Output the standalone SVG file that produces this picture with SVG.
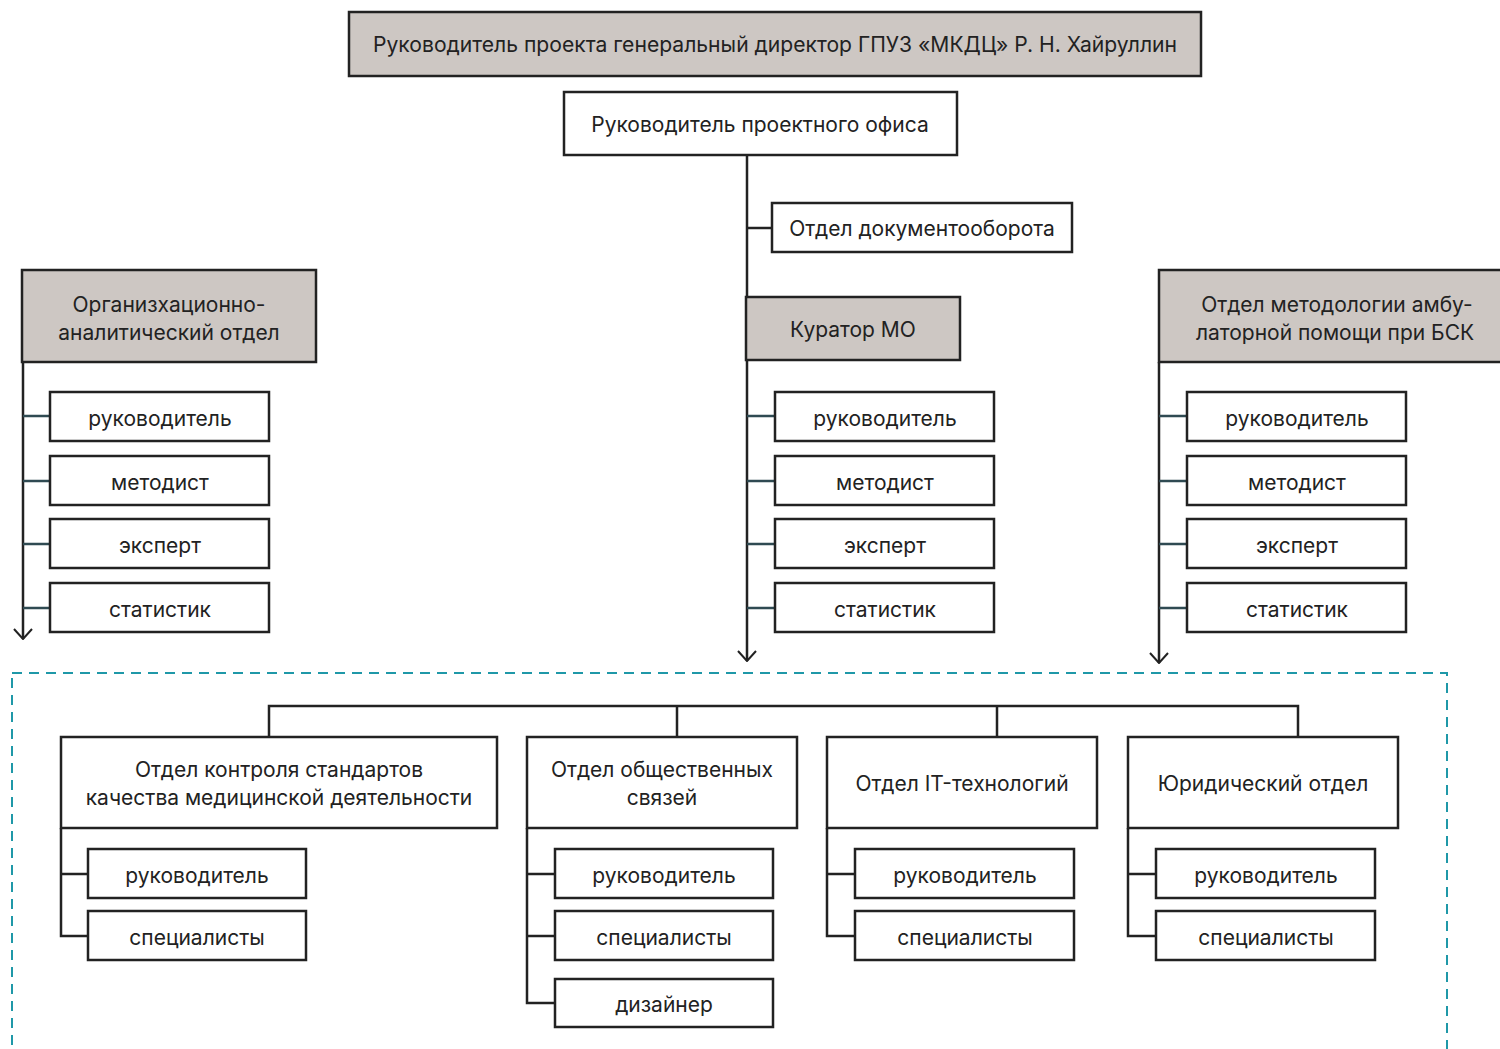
<svg xmlns="http://www.w3.org/2000/svg" width="1500" height="1049" viewBox="0 0 1500 1049">
<defs>
<style>
.box{fill:#fff;stroke:#222;stroke-width:2.5}
.gray{fill:#cdc7c3;stroke:#222;stroke-width:2.5}
text{font-family:Inter,"Noto Sans","Liberation Sans",sans-serif;font-size:21px;fill:#222;text-anchor:middle}
.ln{fill:none;stroke:#222;stroke-width:2.5}
.br{fill:none;stroke:#2f4a52;stroke-width:2.5}
</style>
<marker id="arr" viewBox="0 0 20 12" markerWidth="20" markerHeight="12" refX="10" refY="11" orient="0" markerUnits="userSpaceOnUse">
<path d="M1 1 L10 11 L19 1" fill="none" stroke="#222" stroke-width="2"/>
</marker>
</defs>
<rect width="1500" height="1049" fill="#fff"/>
<rect x="12" y="673" width="1435" height="400" fill="none" stroke="#1f98a8" stroke-width="2" stroke-dasharray="10 7"/>
<g id="connectors">
<path class="ln" d="M747 155 V661" marker-end="url(#arr)"/>
<path class="ln" d="M747 228 H772"/>
<path class="ln" d="M23 362 V639" marker-end="url(#arr)"/>
<path class="ln" d="M1159 362 V663" marker-end="url(#arr)"/>
<path class="br" d="M23 416 H50 M23 481 H50 M23 544 H50 M23 608 H50"/>
<path class="br" d="M747 416 H775 M747 481 H775 M747 544 H775 M747 608 H775"/>
<path class="br" d="M1159 416 H1187 M1159 481 H1187 M1159 544 H1187 M1159 608 H1187"/>
<path class="ln" d="M269 737 V706 H1298 V737 M677 706 V737 M997 706 V737"/>
<path class="ln" d="M61 828 V936 H88 M61 874 H88"/>
<path class="ln" d="M527 828 V1003 H555 M527 874 H555 M527 936 H555"/>
<path class="ln" d="M827 828 V936 H855 M827 874 H855"/>
<path class="ln" d="M1128 828 V936 H1156 M1128 874 H1156"/>
</g>
<g id="n-top"><rect class="gray" x="349" y="12" width="852" height="64"/><text x="775" y="52" textLength="804" lengthAdjust="spacingAndGlyphs">Руководитель проекта генеральный директор ГПУЗ «МКДЦ» Р. Н. Хайруллин</text></g>
<g id="n-office"><rect class="box" x="564" y="92" width="393" height="63"/><text x="760" y="132">Руководитель проектного офиса</text></g>
<g id="n-docs"><rect class="box" x="772" y="203" width="300" height="49"/><text x="922" y="236">Отдел документооборота</text></g>
<g id="n-curator"><rect class="gray" x="746" y="297" width="214" height="63"/><text x="853" y="337">Куратор МО</text></g>
<g id="n-oao"><rect class="gray" x="22" y="270" width="294" height="92"/><text x="169" y="312">Организхационно-</text><text x="169" y="340">аналитический отдел</text></g>
<g id="n-metod"><rect class="gray" x="1159" y="270" width="350" height="92"/><text x="1337" y="312">Отдел методологии амбу-</text><text x="1335" y="340">латорной помощи при БСК</text></g>
<g id="n-l1"><rect class="box" x="50" y="392" width="219" height="49"/><text x="160" y="426">руководитель</text></g>
<g id="n-l2"><rect class="box" x="50" y="456" width="219" height="49"/><text x="160" y="490">методист</text></g>
<g id="n-l3"><rect class="box" x="50" y="519" width="219" height="49"/><text x="160" y="553">эксперт</text></g>
<g id="n-l4"><rect class="box" x="50" y="583" width="219" height="49"/><text x="160" y="617">статистик</text></g>
<g id="n-c1"><rect class="box" x="775" y="392" width="219" height="49"/><text x="885" y="426">руководитель</text></g>
<g id="n-c2"><rect class="box" x="775" y="456" width="219" height="49"/><text x="885" y="490">методист</text></g>
<g id="n-c3"><rect class="box" x="775" y="519" width="219" height="49"/><text x="885" y="553">эксперт</text></g>
<g id="n-c4"><rect class="box" x="775" y="583" width="219" height="49"/><text x="885" y="617">статистик</text></g>
<g id="n-r1"><rect class="box" x="1187" y="392" width="219" height="49"/><text x="1297" y="426">руководитель</text></g>
<g id="n-r2"><rect class="box" x="1187" y="456" width="219" height="49"/><text x="1297" y="490">методист</text></g>
<g id="n-r3"><rect class="box" x="1187" y="519" width="219" height="49"/><text x="1297" y="553">эксперт</text></g>
<g id="n-r4"><rect class="box" x="1187" y="583" width="219" height="49"/><text x="1297" y="617">статистик</text></g>
<g id="n-b1"><rect class="box" x="61" y="737" width="436" height="91"/><text x="279" y="777">Отдел контроля стандартов</text><text x="279" y="805">качества медицинской деятельности</text></g>
<g id="n-b2"><rect class="box" x="527" y="737" width="270" height="91"/><text x="662" y="777">Отдел общественных</text><text x="662" y="805">связей</text></g>
<g id="n-b3"><rect class="box" x="827" y="737" width="270" height="91"/><text x="962" y="791">Отдел IT-технологий</text></g>
<g id="n-b4"><rect class="box" x="1128" y="737" width="270" height="91"/><text x="1263" y="791">Юридический отдел</text></g>
<g id="n-b1a"><rect class="box" x="88" y="849" width="218" height="49"/><text x="197" y="883">руководитель</text></g>
<g id="n-b1b"><rect class="box" x="88" y="911" width="218" height="49"/><text x="197" y="945">специалисты</text></g>
<g id="n-b2a"><rect class="box" x="555" y="849" width="218" height="49"/><text x="664" y="883">руководитель</text></g>
<g id="n-b2b"><rect class="box" x="555" y="911" width="218" height="49"/><text x="664" y="945">специалисты</text></g>
<g id="n-b2c"><rect class="box" x="555" y="979" width="218" height="48"/><text x="664" y="1012">дизайнер</text></g>
<g id="n-b3a"><rect class="box" x="855" y="849" width="219" height="49"/><text x="965" y="883">руководитель</text></g>
<g id="n-b3b"><rect class="box" x="855" y="911" width="219" height="49"/><text x="965" y="945">специалисты</text></g>
<g id="n-b4a"><rect class="box" x="1156" y="849" width="219" height="49"/><text x="1266" y="883">руководитель</text></g>
<g id="n-b4b"><rect class="box" x="1156" y="911" width="219" height="49"/><text x="1266" y="945">специалисты</text></g>
</svg>
